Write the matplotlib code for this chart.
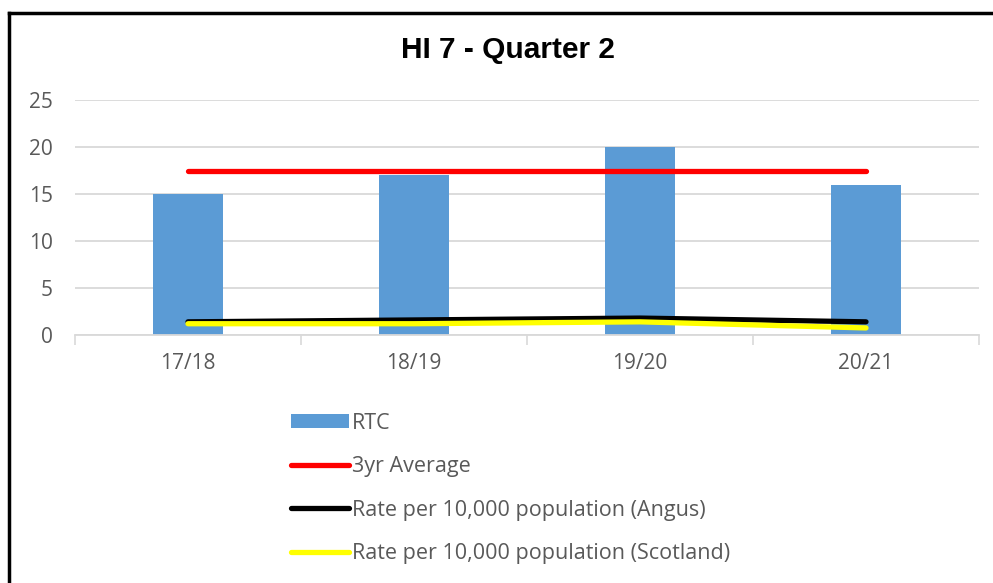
import numpy as np
import matplotlib.pyplot as plt
from matplotlib.lines import Line2D

# data
years = ["17/18", "18/19", "19/20", "20/21"]
rtc = [15, 17, 20, 16]
avg_3yr = [17.4, 17.4, 17.4, 17.4]
rate_angus = [1.4, 1.6, 1.8, 1.4]
rate_scotland = [1.2, 1.2, 1.4, 0.75]

plt.rcParams['font.family'] = ['Open Sans', 'DejaVu Sans']

fig = plt.figure(figsize=(9.93, 5.83), dpi=100)
ax = fig.add_axes([75 / 993, 248 / 583, 904 / 993, 235 / 583])

x = np.arange(len(years))
grey = "#595959"

h_bar = ax.bar(x, rtc, width=0.31, color="#5b9bd5", label="RTC", zorder=2)
h_avg, = ax.plot(x, avg_3yr, color="#ff0000", lw=3.8, solid_capstyle="round",
                 label="3yr Average", zorder=3)
h_ang, = ax.plot(x, rate_angus, color="black", lw=3.8, solid_capstyle="round",
                 label="Rate per 10,000 population (Angus)", zorder=3)
h_sco, = ax.plot(x, rate_scotland, color="#ffff00", lw=3.8, solid_capstyle="round",
                 label="Rate per 10,000 population (Scotland)", zorder=4)

ax.set_xlim(-0.5, 3.5)
ax.set_ylim(0, 25)
ax.set_yticks([0, 5, 10, 15, 20, 25])
ax.set_xticks(x)
ax.set_xticklabels(years)
ax.set_xticks(np.arange(-0.5, 4.0, 1.0), minor=True)
ax.tick_params(axis="x", which="major", length=0, pad=13, labelsize=15, labelcolor=grey)
ax.tick_params(axis="x", which="minor", length=7, width=1.2, color="#d9d9d9")
ax.tick_params(axis="y", length=0, pad=16, labelsize=15, labelcolor=grey)

ax.grid(axis="y", color="#d9d9d9", lw=1.3, zorder=0)
ax.set_axisbelow(True)
for s in ["top", "right", "left"]:
    ax.spines[s].set_visible(False)
ax.spines["bottom"].set_color("#d9d9d9")
ax.spines["bottom"].set_linewidth(1.3)

fig.text(508 / 993, 1 - 50 / 583, "HI 7 - Quarter 2", ha="center", va="center",
         fontsize=21.5, fontweight="bold",
         family=["Liberation Sans Narrow", "Liberation Sans", "DejaVu Sans"])

leg = fig.legend(handles=[h_bar, h_avg, h_ang, h_sco],
                 loc="upper left", bbox_to_anchor=(282 / 993, 1 - 404 / 583),
                 frameon=False, fontsize=15.5, labelcolor=grey,
                 handlelength=2.7, handleheight=0.65, handletextpad=0.15,
                 labelspacing=1.05, borderaxespad=0)

# outer frame
fig.add_artist(Line2D([9 / 993, 9 / 993], [0, 1 - 13 / 583], color="black", lw=2.5,
                      transform=fig.transFigure))
fig.add_artist(Line2D([9 / 993, 1], [1 - 13 / 583, 1 - 13 / 583], color="black", lw=2.5,
                      transform=fig.transFigure))

fig.savefig("out.png", dpi=100)
